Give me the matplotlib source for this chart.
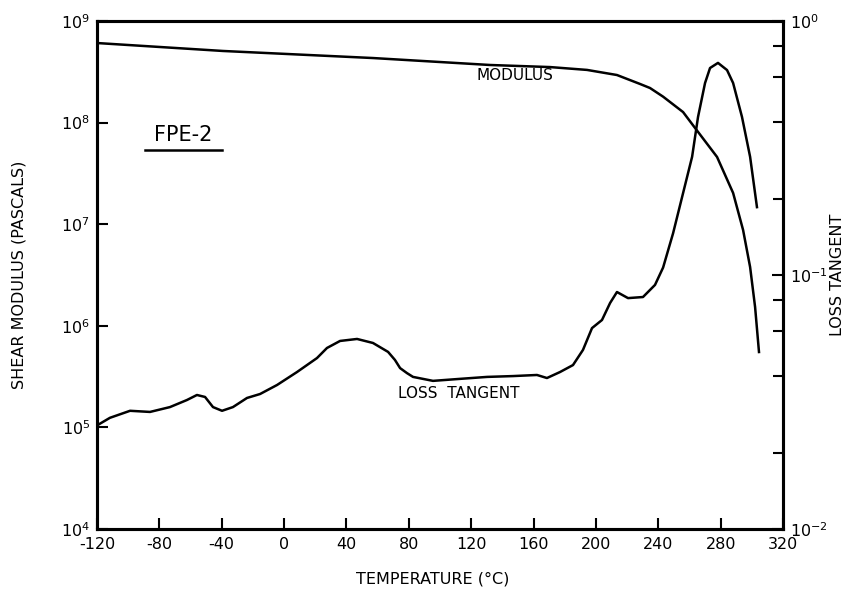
import matplotlib
matplotlib.use("Agg")
import matplotlib.pyplot as plt
from matplotlib.ticker import FixedLocator, NullFormatter
from matplotlib.lines import Line2D

plt.rcParams['font.family'] = ['DejaVu Sans']
plt.rcParams['axes.unicode_minus'] = False

# shear modulus (Pa) vs temperature (C)
mod_temp = [-120, -39.2, 57.0, 132.1, 170.6, 194.3, 213.5, 228.3, 234.7, 243.1,
            255.9, 263.6, 277.7, 288.0, 294.4, 298.9, 302.1, 304.6]
mod_val = [6.07e8, 5.07e8, 4.32e8, 3.69e8, 3.52e8, 3.30e8, 2.94e8, 2.40e8, 2.19e8, 1.80e8,
           1.27e8, 8.85e7, 4.59e7, 2.03e7, 8.77e6, 3.79e6, 1.53e6, 5.52e5]

# loss tangent vs temperature (C)
tan_temp = [-119.4, -111.7, -98.8, -86.0, -73.2, -62.3, -55.9, -50.7, -45.6, -39.8,
            -32.8, -23.8, -15.4, -4.5, 8.3, 21.1, 27.5, 35.9, 46.8, 57.0,
            66.7, 71.1, 74.4, 78.8, 82.7, 95.5, 112.8, 130.2, 146.8, 162.2,
            168.6, 177.0, 185.3, 191.7, 197.5, 203.9, 209.1, 213.5, 220.6, 230.2,
            237.9, 243.1, 249.5, 255.9, 261.7, 265.5, 270.0, 273.2, 278.3, 284.1,
            288.0, 293.7, 298.9, 303.3]
tan_val = [0.0257, 0.0274, 0.0292, 0.0289, 0.0302, 0.0322, 0.0337, 0.0331, 0.0302, 0.0292,
           0.0302, 0.0328, 0.0340, 0.0369, 0.0415, 0.0471, 0.0516, 0.0550, 0.0560, 0.0540,
           0.0498, 0.0463, 0.0430, 0.0411, 0.0397, 0.0383, 0.0390, 0.0397, 0.0400, 0.0404,
           0.0393, 0.0415, 0.0442, 0.0507, 0.0618, 0.0665, 0.0776, 0.0857, 0.0811, 0.0819,
           0.0914, 0.107, 0.146, 0.210, 0.292, 0.419, 0.570, 0.653, 0.684, 0.641,
           0.570, 0.419, 0.292, 0.185]

x_ticks = [-120, -80, -40, 0, 40, 80, 120, 160, 200, 240, 280, 320]
left_ticks = [1e4, 1e5, 1e6, 1e7, 1e8, 1e9]
left_labels = ['$10^4$', '$10^5$', '$10^6$', '$10^7$', '$10^8$', '$10^9$']
right_ticks = [1e-2, 1e-1, 1e0]
right_labels = ['$10^{-2}$', '$10^{-1}$', '$10^{0}$']
right_minor = [0.02, 0.04, 0.06, 0.08, 0.2, 0.4, 0.6, 0.8]

fig = plt.figure(figsize=(8.49, 5.93), dpi=100)
W, H = 849, 593
ax = fig.add_axes([97 / W, 1 - 529 / H, (783 - 97) / W, (529 - 21) / H])
ax2 = ax.twinx()

ax.plot(mod_temp, mod_val, color='black', lw=1.8, solid_joinstyle='round')
ax2.plot(tan_temp, tan_val, color='black', lw=1.8, solid_joinstyle='round')

ax.set_xlim(-120, 320)
ax.set_yscale('log')
ax.set_ylim(1e4, 1e9)
ax2.set_yscale('log')
ax2.set_ylim(1e-2, 1e0)

ax.set_xticks(x_ticks)
ax.set_xticklabels([str(t) for t in x_ticks])
ax.set_yticks(left_ticks)
ax.set_yticklabels(left_labels)
ax.yaxis.set_minor_locator(FixedLocator([]))
ax2.set_yticks(right_ticks)
ax2.set_yticklabels(right_labels)
ax2.yaxis.set_minor_locator(FixedLocator(right_minor))
ax2.yaxis.set_minor_formatter(NullFormatter())

for a in (ax, ax2):
    for s in a.spines.values():
        s.set_linewidth(2.2)
ax.tick_params(axis='both', which='major', direction='in', length=8, width=1.5,
               labelsize=11.5, pad=5)
ax.tick_params(axis='x', pad=6)
ax2.tick_params(axis='y', which='major', direction='in', length=8, width=1.5,
                labelsize=11.5, pad=5)
ax2.tick_params(axis='y', which='minor', direction='in', length=7, width=1.5)

ax.set_xlabel('TEMPERATURE (°C)', fontsize=11.5)
ax.xaxis.set_label_coords(0.49, -0.084)
ax.set_ylabel('SHEAR MODULUS (PASCALS)', fontsize=11.5)
ax.yaxis.set_label_coords(-0.103, 0.5)
ax2.set_ylabel('LOSS TANGENT', fontsize=11.5, rotation=90)
ax2.yaxis.set_label_coords(1.069, 0.5)

ax.text(148, 2.94e8, 'MODULUS', fontsize=11, ha='center', va='center')
ax.text(-65, 7.55e7, 'FPE-2', fontsize=15, ha='center', va='center')
ax.add_line(Line2D([0.070, 0.182], [0.746, 0.746], transform=ax.transAxes,
                   color='black', lw=1.8))
ax2.text(112, 0.0343, 'LOSS  TANGENT', fontsize=11, ha='center', va='center')

fig.savefig('out.png', dpi=100)
